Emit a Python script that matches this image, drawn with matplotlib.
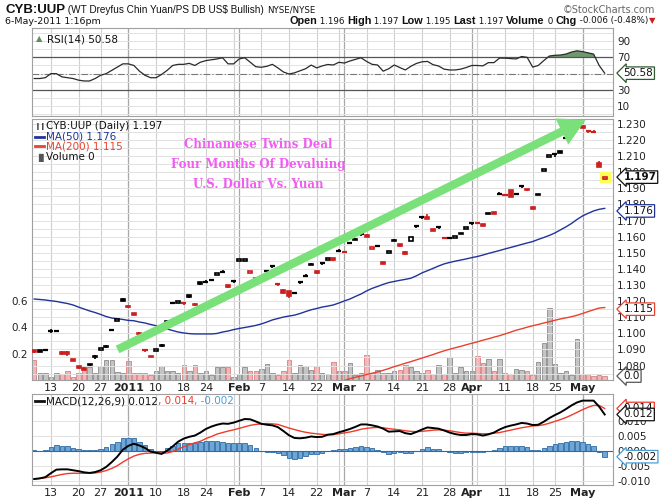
import numpy as np
import pandas as pd
import matplotlib
matplotlib.use('Agg')
import matplotlib.pyplot as plt
import matplotlib.transforms as mtransforms
from matplotlib.patches import Rectangle

# ---- trading days shown on the chart ----
days = pd.bdate_range('2010-12-08', '2011-05-06')
holidays = pd.to_datetime(['2010-12-24', '2011-01-17', '2011-02-21', '2011-04-22'])
days = days[~days.isin(holidays)]

# ---- daily OHLC ----
close_before = 1.0905
opens = [1.0895, 1.0896, 1.0897, 1.1016, 1.1017, 1.0879, 1.0876, 1.0835, 1.0790, 1.0782,
         1.0810, 1.0860, 1.0898, 1.0912, 1.1023, 1.1082, 1.1212, 1.1172, 1.1121, 1.1004,
         1.0898, 1.0858, 1.0897, 1.0920, 1.1068, 1.1188, 1.1192, 1.1190, 1.1235, 1.1176,
         1.1315, 1.1321, 1.1333, 1.1367, 1.1383, 1.1300, 1.1323, 1.1450, 1.1452, 1.1380,
         1.1340, 1.1352, 1.1387, 1.1416, 1.1306, 1.1272, 1.1260, 1.1251, 1.1317, 1.1358,
         1.1425, 1.1386, 1.1435, 1.1461, 1.1466, 1.1513, 1.1507, 1.1559, 1.1580, 1.1617,
         1.1612, 1.1528, 1.1544, 1.1436, 1.1500, 1.1574, 1.1553, 1.1502, 1.1575, 1.1665,
         1.1721, 1.1718, 1.1646, 1.1659, 1.1592, 1.1595, 1.1595, 1.1617, 1.1652, 1.1685,
         1.1682, 1.1674, 1.1740, 1.1746, 1.1867, 1.1857, 1.1888, 1.1865, 1.1913, 1.1895,
         1.1785, 1.1858, 1.2008, 1.2098, 1.2111, 1.2130, 1.2213, 1.2245, 1.2288, 1.2283,
         1.2255, 1.2252, 1.2060, 1.1960]
highs = [1.0897, 1.0898, 1.0898, 1.1028, 1.1018, 1.0892, 1.0890, 1.0836, 1.0800, 1.0790,
         1.0812, 1.0866, 1.0910, 1.0926, 1.1024, 1.1084, 1.1218, 1.1175, 1.1128, 1.1006,
         1.0899, 1.0860, 1.0899, 1.0935, 1.1075, 1.1190, 1.1194, 1.1191, 1.1240, 1.1186,
         1.1318, 1.1330, 1.1334, 1.1369, 1.1393, 1.1302, 1.1330, 1.1462, 1.1462, 1.1390,
         1.1345, 1.1360, 1.1395, 1.1417, 1.1307, 1.1275, 1.1262, 1.1253, 1.1326, 1.1367,
         1.1435, 1.1388, 1.1444, 1.1463, 1.1468, 1.1522, 1.1514, 1.1561, 1.1590, 1.1618,
         1.1614, 1.1538, 1.1546, 1.1438, 1.1510, 1.1583, 1.1555, 1.1512, 1.1600, 1.1675,
         1.1730, 1.1740, 1.1648, 1.1668, 1.1600, 1.1596, 1.1603, 1.1626, 1.1662, 1.1686,
         1.1684, 1.1676, 1.1750, 1.1748, 1.1877, 1.1859, 1.1890, 1.1867, 1.1914, 1.1897,
         1.1787, 1.1868, 1.2020, 1.2110, 1.2112, 1.2132, 1.2222, 1.2255, 1.2298, 1.2288,
         1.2256, 1.2260, 1.2068, 1.1970]
lows = [1.0880, 1.0884, 1.0888, 1.1004, 1.1008, 1.0866, 1.0862, 1.0833, 1.0778, 1.0770,
        1.0796, 1.0840, 1.0896, 1.0910, 1.1012, 1.1081, 1.1198, 1.1155, 1.1112, 1.0990,
        1.0886, 1.0850, 1.0896, 1.0918, 1.1065, 1.1186, 1.1190, 1.1175, 1.1222, 1.1170,
        1.1300, 1.1312, 1.1322, 1.1366, 1.1373, 1.1280, 1.1315, 1.1448, 1.1450, 1.1375,
        1.1330, 1.1344, 1.1380, 1.1405, 1.1295, 1.1245, 1.1222, 1.1250, 1.1308, 1.1349,
        1.1423, 1.1368, 1.1426, 1.1460, 1.1452, 1.1504, 1.1498, 1.1558, 1.1578, 1.1606,
        1.1596, 1.1525, 1.1543, 1.1428, 1.1498, 1.1572, 1.1538, 1.1488, 1.1573, 1.1655,
        1.1712, 1.1708, 1.1635, 1.1650, 1.1585, 1.1585, 1.1593, 1.1615, 1.1650, 1.1675,
        1.1681, 1.1664, 1.1738, 1.1740, 1.1858, 1.1856, 1.1845, 1.1864, 1.1902, 1.1885,
        1.1770, 1.1856, 1.2006, 1.2096, 1.2098, 1.2124, 1.2204, 1.2240, 1.2285, 1.2272,
        1.2245, 1.2245, 1.2030, 1.1950]
closes = [1.0882, 1.0886, 1.0897, 1.1016, 1.1017, 1.0878, 1.0875, 1.0834, 1.0789, 1.0779,
          1.0803, 1.0851, 1.0907, 1.0923, 1.1023, 1.1083, 1.1203, 1.1162, 1.1120, 1.0994,
          1.0898, 1.0855, 1.0898, 1.0928, 1.1070, 1.1188, 1.1193, 1.1190, 1.1228, 1.1182,
          1.1306, 1.1321, 1.1333, 1.1368, 1.1383, 1.1288, 1.1323, 1.1457, 1.1460, 1.1385,
          1.1337, 1.1352, 1.1387, 1.1416, 1.1306, 1.1250, 1.1230, 1.1251, 1.1317, 1.1358,
          1.1431, 1.1373, 1.1435, 1.1462, 1.1455, 1.1513, 1.1507, 1.1559, 1.1586, 1.1617,
          1.1600, 1.1534, 1.1544, 1.1435, 1.1507, 1.1580, 1.1542, 1.1493, 1.1596, 1.1665,
          1.1721, 1.1715, 1.1642, 1.1659, 1.1592, 1.1595, 1.1600, 1.1623, 1.1659, 1.1685,
          1.1682, 1.1671, 1.1747, 1.1744, 1.1867, 1.1857, 1.1847, 1.1865, 1.1913, 1.1892,
          1.1774, 1.1865, 1.2016, 1.2106, 1.2111, 1.2126, 1.2213, 1.2250, 1.2294, 1.2280,
          1.2255, 1.2252, 1.2035, 1.1970]

volume = [0.150, 0.050, 0.050, 0.025, 0.050, 0.045, 0.065, 0.025, 0.050, 0.075,
          0.095, 0.055, 0.105, 0.150, 0.150, 0.060, 0.055, 0.145, 0.055, 0.055,
          0.055, 0.040, 0.070, 0.105, 0.065, 0.070, 0.055, 0.115, 0.065, 0.115,
          0.055, 0.065, 0.040, 0.100, 0.100, 0.095, 0.025, 0.045, 0.095, 0.070,
          0.070, 0.080, 0.120, 0.055, 0.040, 0.065, 0.155, 0.055, 0.115, 0.105,
          0.075, 0.105, 0.055, 0.045, 0.140, 0.070, 0.070, 0.130, 0.040, 0.050,
          0.190, 0.050, 0.075, 0.055, 0.050, 0.070, 0.075, 0.115, 0.095, 0.065,
          0.050, 0.075, 0.045, 0.115, 0.045, 0.175, 0.055, 0.100, 0.065, 0.070,
          0.185, 0.130, 0.160, 0.065, 0.160, 0.050, 0.045, 0.080, 0.075, 0.070,
          0.040, 0.140, 0.280, 0.550, 0.120, 0.050, 0.070, 0.040, 0.310, 0.045,
          0.045, 0.030, 0.040, 0.030]

ma50 = [1.1213, 1.1210, 1.1207, 1.1202, 1.1198, 1.1191, 1.1185, 1.1176, 1.1163, 1.1151,
        1.1139, 1.1129, 1.1117, 1.1104, 1.1095, 1.1091, 1.1086, 1.1080, 1.1078, 1.1070,
        1.1064, 1.1055, 1.1047, 1.1036, 1.1027, 1.1017, 1.1008, 1.1002, 1.0998, 1.0996,
        1.0996, 1.0996, 1.0996, 1.0999, 1.1008, 1.1014, 1.1023, 1.1030, 1.1036, 1.1042,
        1.1049, 1.1058, 1.1070, 1.1083, 1.1092, 1.1101, 1.1107, 1.1113, 1.1123, 1.1135,
        1.1146, 1.1154, 1.1163, 1.1169, 1.1176, 1.1188, 1.1201, 1.1213, 1.1229, 1.1244,
        1.1263, 1.1279, 1.1291, 1.1304, 1.1315, 1.1322, 1.1329, 1.1335, 1.1342, 1.1357,
        1.1375, 1.1389, 1.1403, 1.1418, 1.1431, 1.1440, 1.1448, 1.1455, 1.1462, 1.1470,
        1.1477, 1.1486, 1.1496, 1.1505, 1.1514, 1.1524, 1.1533, 1.1542, 1.1552, 1.1561,
        1.1570, 1.1583, 1.1595, 1.1608, 1.1623, 1.1642, 1.1661, 1.1682, 1.1707, 1.1729,
        1.1745, 1.1760, 1.1770, 1.1776]

ma200_start = 56
ma200 = [1.0707, 1.0718, 1.0727, 1.0735, 1.0744, 1.0752, 1.0760, 1.0770, 1.0781, 1.0793,
         1.0803, 1.0814, 1.0824, 1.0835, 1.0846, 1.0857, 1.0868, 1.0880, 1.0891, 1.0901,
         1.0910, 1.0919, 1.0929, 1.0938, 1.0947, 1.0957, 1.0966, 1.0976, 1.0985, 1.0996,
         1.1007, 1.1019, 1.1028, 1.1038, 1.1047, 1.1055, 1.1064, 1.1072, 1.1081, 1.1089,
         1.1096, 1.1103, 1.1112, 1.1123, 1.1135, 1.1146, 1.1157, 1.1160]

rsi = [44, 44, 45, 50, 50, 46, 45, 44, 42, 41,
       41, 44, 48, 50, 54, 58, 62, 62, 60, 53,
       48, 45, 45, 49, 54, 60, 61.4, 61.4, 62.6, 60,
       64, 66, 67, 68, 69.5, 62, 62, 68, 69.5, 64,
       58.5, 57.8, 59, 61.4, 57, 52, 49.5, 51, 53.5, 56,
       60.5, 57, 59.5, 61.2, 60.6, 63.9, 63, 65.5, 67.5, 69.5,
       65, 61.4, 60.6, 53, 56, 60.6, 57.5, 54.5, 59, 62.5,
       64.5, 65, 61, 59.4, 55.5, 54.5, 54.5, 55.5, 57.5, 60,
       60, 59.5, 63.5, 63.5, 69, 69, 68.5, 68, 71, 70,
       58, 60, 66, 71.6, 72.5, 72.8, 74, 76.5, 78, 77,
       75.5, 74, 60, 50.58]

macd = [-0.0094, -0.0092, -0.0088, -0.0075, -0.0063, -0.0062, -0.0062, -0.0065, -0.0068, -0.0072,
        -0.0074, -0.0071, -0.0065, -0.0054, -0.0038, -0.0020, 0.0003, 0.0016, 0.0023, 0.0017,
        0.0009, -0.0003, -0.0007, -0.0011, 0.0000, 0.0014, 0.0030, 0.0040, 0.0046, 0.0050,
        0.0060, 0.0072, 0.0080, 0.0086, 0.0090, 0.0089, 0.0093, 0.0099, 0.0105, 0.0104,
        0.0097, 0.0089, 0.0086, 0.0084, 0.0078, 0.0065, 0.0051, 0.0042, 0.0041, 0.0043,
        0.0047, 0.0045, 0.0046, 0.0053, 0.0055, 0.0061, 0.0066, 0.0072, 0.0079, 0.0087,
        0.0087, 0.0084, 0.0080, 0.0073, 0.0063, 0.0064, 0.0065, 0.0058, 0.0055, 0.0062,
        0.0070, 0.0077, 0.0075, 0.0073, 0.0067, 0.0060, 0.0055, 0.0052, 0.0052, 0.0055,
        0.0054, 0.0050, 0.0054, 0.0060, 0.0070, 0.0078, 0.0083, 0.0087, 0.0092, 0.0090,
        0.0085, 0.0086, 0.0096, 0.0108, 0.0118, 0.0127, 0.0138, 0.0150, 0.0160, 0.0166,
        0.0166, 0.0166, 0.0146, 0.0120]
signal = [-0.0095, -0.0092, -0.0090, -0.0087, -0.0083, -0.0079, -0.0076, -0.0075, -0.0075, -0.0075,
          -0.0075, -0.0074, -0.0071, -0.0066, -0.0059, -0.0050, -0.0038, -0.0027, -0.0018, -0.0012,
          -0.0009, -0.0008, -0.0007, -0.0008, -0.0008, -0.0003, 0.0005, 0.0013, 0.0020, 0.0026,
          0.0031, 0.0040, 0.0047, 0.0055, 0.0060, 0.0065, 0.0069, 0.0074, 0.0079, 0.0084,
          0.0087, 0.0089, 0.0090, 0.0089, 0.0087, 0.0081, 0.0075, 0.0070, 0.0065, 0.0061,
          0.0058, 0.0056, 0.0054, 0.0053, 0.0053, 0.0056, 0.0059, 0.0062, 0.0066, 0.0071,
          0.0074, 0.0076, 0.0077, 0.0076, 0.0073, 0.0071, 0.0069, 0.0066, 0.0064, 0.0063,
          0.0064, 0.0066, 0.0068, 0.0069, 0.0068, 0.0066, 0.0063, 0.0060, 0.0058, 0.0058,
          0.0057, 0.0056, 0.0056, 0.0058, 0.0060, 0.0064, 0.0068, 0.0072, 0.0076, 0.0079,
          0.0082, 0.0083, 0.0086, 0.0091, 0.0097, 0.0103, 0.0110, 0.0118, 0.0127, 0.0136,
          0.0144, 0.0150, 0.0150, 0.0140]

# annotation arrow (day index, price)
arrow_start = (14.6, 1.0892)
arrow_tip = (100.0, 1.2333)
note_lines = ['Chinamese Twins Deal', 'Four Months Of Devaluing', 'U.S. Dollar Vs. Yuan']

RED = '#cc1f1f'
BLACK = '#000000'
GRID = '#e2e2e2'
WEEK = '#cfcfcf'
MONTH = '#a8a8a8'
SPINE = '#a0a0a0'

W, H = 660, 500
fig = plt.figure(figsize=(6.6, 5.0), dpi=100)
plt.rcParams['font.family'] = ['DejaVu Sans']


def rect_px(left, top, right, bottom):
    return [left / W, 1 - bottom / H, (right - left) / W, (bottom - top) / H]


ax_rsi = fig.add_axes(rect_px(32, 28, 613, 116))
ax = fig.add_axes(rect_px(32, 119, 613, 380))
ax_macd = fig.add_axes(rect_px(32, 394, 613, 485))

n = len(days)
x = np.arange(n)
xlim = (-0.4, 104.5)

# week / month starts for grid and labels
wk = days.to_series().dt.isocalendar().week.values
week_starts = [0] + [i for i in range(1, n) if wk[i] != wk[i - 1]]
month_starts = [i for i in range(1, n) if days[i].month != days[i - 1].month]
label_pos, label_txt, label_bold = [], [], []
for i in sorted(set(week_starts[1:]) | set(month_starts)):
    if i in month_starts:
        label_pos.append(i)
        label_txt.append(str(days[i].year) if days[i].month == 1 else days[i].strftime('%b'))
        label_bold.append(True)
    elif min(abs(i - m) for m in month_starts) > 2:
        label_pos.append(i)
        label_txt.append(str(days[i].day))
        label_bold.append(False)


def style_panel(a):
    a.set_xlim(*xlim)
    for sp in a.spines.values():
        sp.set_color(SPINE)
        sp.set_linewidth(0.8)
    for i in week_starts[1:]:
        a.axvline(i, color=WEEK, lw=0.8, zorder=0)
    for i in month_starts:
        a.axvline(i, color=MONTH, lw=0.9, zorder=0)
    a.yaxis.tick_right()
    a.tick_params(axis='y', length=0, labelsize=7.5, pad=3, colors='#222222')
    a.tick_params(axis='x', length=0, pad=2.5)


def set_date_labels(a, show):
    a.set_xticks(label_pos)
    if show:
        a.set_xticklabels(label_txt, fontsize=8, color='#222222')
        for t, b in zip(a.get_xticklabels(), label_bold):
            if b:
                t.set_fontweight('bold')
    else:
        a.set_xticklabels([])


def value_box(a, val, txt, ec, bold=False, fc='white'):
    tr = mtransforms.blended_transform_factory(a.transAxes, a.transData)
    a.text(1.018, val, txt, transform=tr, ha='left', va='center', fontsize=7.5,
           fontweight='bold' if bold else 'normal', color='#111111', clip_on=False,
           bbox=dict(boxstyle='larrow,pad=0.12', fc=fc, ec=ec, lw=0.9), zorder=10)


# ---------------- RSI ----------------
style_panel(ax_rsi)
ax_rsi.set_ylim(-2, 106)
for v in range(0, 101, 10):
    ax_rsi.axhline(v, color=GRID, lw=0.7, zorder=0)
ax_rsi.axhline(70, color='#555555', lw=0.9)
ax_rsi.axhline(30, color='#555555', lw=0.9)
ax_rsi.axhline(50, color='#777777', lw=0.8, ls=(0, (6, 2, 1, 2)))
rsi_arr = np.array(rsi)
ax_rsi.fill_between(x, 70, rsi_arr, where=rsi_arr > 70, interpolate=True,
                    color='#6f986f', lw=0)
ax_rsi.plot(x, rsi_arr, color='#2a2a2a', lw=0.9)
ax_rsi.set_yticks([10, 30, 70, 90])
set_date_labels(ax_rsi, False)
value_box(ax_rsi, rsi[-1], '50.58', '#2f5a2f')
ax_rsi.text(0.025, 0.93, 'RSI(14) 50.58', transform=ax_rsi.transAxes, fontsize=7.5,
            va='top', color='#111111')
ax_rsi.text(0.006, 0.93, '\u25b2', transform=ax_rsi.transAxes, fontsize=6,
            va='top', color='#5f8f5f')

# ---------------- Price ----------------
style_panel(ax)
vax = ax.twinx()
ax.yaxis.tick_right()
vax.yaxis.tick_left()
vax.set_xlim(*xlim)
vax.set_ylim(0, 1.98)
ax.set_zorder(vax.get_zorder() + 1)
ax.patch.set_visible(False)
ax.set_ylim(1.0710, 1.2331)
for v in np.arange(1.075, 1.2331, 0.005):
    ax.axhline(v, color=GRID, lw=0.7, zorder=0)

prev = np.concatenate([[close_before], closes[:-1]])
up = np.array(closes) >= prev
vcol = np.where(up, '#c4c4c4', '#f3b6b6')
vedge = np.where(up, '#8a8a8a', '#d98080')
vax.bar(x, volume, width=0.8, color=vcol, edgecolor=vedge, lw=0.6)
vax.set_yticks([0.2, 0.4, 0.6])
vax.set_yticklabels(['0.2', '0.4', '0.6'])
vax.tick_params(axis='y', length=0, labelsize=7.5, pad=3, colors='#222222')
for sp in vax.spines.values():
    sp.set_visible(False)

# highlight of last bar
ax.plot(n - 1, closes[-1], marker='s', ms=6.5, color='#ffff55', mec='#ffff55', zorder=2)

bw = 0.72
min_body = 0.0011
for i in range(n):
    col = BLACK if up[i] else RED
    o, c, h, l = opens[i], closes[i], highs[i], lows[i]
    ax.vlines(i, l, h, color=col, lw=1.2, zorder=3)
    if c != o:
        lo, hi = min(o, c), max(o, c)
        if hi - lo < min_body:
            mid = (hi + lo) / 2
            lo, hi = mid - min_body / 2, mid + min_body / 2
        face = 'white' if c > o else col
        ax.add_patch(Rectangle((i - bw / 2, lo), bw, hi - lo, fc=face, ec=col, lw=1.2,
                               zorder=4))
    else:
        ax.hlines(c, i - bw / 2 - 0.1, i + bw / 2 + 0.1, color=col, lw=1.6, zorder=4)

ax.plot(x, ma50, color='#1f3399', lw=1.0, zorder=3)
ax.plot(np.arange(ma200_start, ma200_start + len(ma200)), ma200, color='#e8412e', lw=1.0,
        zorder=3)

ax.annotate('', xy=arrow_tip, xytext=arrow_start, annotation_clip=False,
            arrowprops=dict(arrowstyle='simple,head_length=1.9,head_width=2.1,tail_width=0.6',
                            mutation_scale=10, fc='#7ae07a', ec='none', clip_on=False),
            zorder=6)

ax.set_yticks(np.round(np.arange(1.08, 1.2301, 0.01), 3))
ax.yaxis.set_major_formatter(matplotlib.ticker.FormatStrFormatter('%.3f'))
set_date_labels(ax, True)

value_box(ax, 1.197, '1.197', '#111111', bold=True)
value_box(ax, 1.176, '1.176', '#1f3399')
value_box(ax, 1.115, '1.115', '#e8412e')
trv = mtransforms.blended_transform_factory(vax.transAxes, vax.transData)
vax.text(1.018, 0.03, '0.0', transform=trv, ha='left', va='center', fontsize=7.5,
         color='#111111', clip_on=False,
         bbox=dict(boxstyle='larrow,pad=0.12', fc='white', ec='#555555', lw=0.9))

# legend
leg_y = [126, 136.5, 146.5, 157]
fig.text(46 / W, 1 - leg_y[0] / H, 'CYB:UUP (Daily) 1.197', fontsize=7.5, va='center',
         color='#111111')
fig.text(35 / W, 1 - leg_y[0] / H, '\u2759\u2759', fontsize=5, va='center', color='#111111')
fig.text(46 / W, 1 - leg_y[1] / H, 'MA(50) 1.176', fontsize=7.5, va='center', color='#1f3399')
fig.text(46 / W, 1 - leg_y[2] / H, 'MA(200) 1.115', fontsize=7.5, va='center', color='#e8412e')
fig.text(46 / W, 1 - leg_y[3] / H, 'Volume 0', fontsize=7.5, va='center', color='#111111')
fig.text(35 / W, 1 - leg_y[3] / H, '\u2590\u258c', fontsize=5.5, va='center', color='#555555')
for yy, cc in [(leg_y[1], '#1f3399'), (leg_y[2], '#e8412e'), (401, '#111111')]:
    fig.add_artist(plt.Line2D([35 / W, 44 / W], [1 - yy / H, 1 - yy / H], color=cc, lw=2))

for k, line in enumerate(note_lines):
    fig.text(258 / W, 1 - (144 + 20 * k) / H, line, ha='center', va='center',
             fontsize=8.5, fontweight='bold', family='DejaVu Serif', color='#f25cf2')

# ---------------- MACD ----------------
style_panel(ax_macd)
ax_macd.set_ylim(-0.0114, 0.0188)
for v in np.arange(-0.010, 0.0151, 0.005):
    ax_macd.axhline(v, color=GRID, lw=0.7, zorder=0)
hist = np.array(macd) - np.array(signal)
ax_macd.bar(x, hist, width=0.8, color='#6ea6d6', edgecolor='#2d6aa6', lw=0.6, zorder=2)
ax_macd.axhline(0, color='#2d6aa6', lw=0.8, zorder=2)
ax_macd.plot(x, signal, color='#f03a2a', lw=1.0, zorder=3)
ax_macd.plot(x, macd, color='#000000', lw=1.4, zorder=4)
ax_macd.set_yticks([-0.010, -0.005, 0.0, 0.005, 0.010])
ax_macd.yaxis.set_major_formatter(matplotlib.ticker.FormatStrFormatter('%.3f'))
set_date_labels(ax_macd, True)
value_box(ax_macd, signal[-1], '0.014', '#f03a2a')
value_box(ax_macd, macd[-1], '0.012', '#111111')
value_box(ax_macd, hist[-1], '-0.002', '#4a9fd8')

fig.canvas.draw()
renderer = fig.canvas.get_renderer()


def text_run(x0, y0, pieces, align='left'):
    arts = []
    for s, kw in pieces:
        arts.append(fig.text(0, 1 - y0 / H, s, va='center', **kw))
    widths = [a.get_window_extent(renderer).width for a in arts]
    xs = x0 if align == 'left' else x0 - sum(widths)
    for a, w in zip(arts, widths):
        a.set_x(xs / W)
        xs += w


bold = dict(fontsize=7.8, fontweight='bold', family='Liberation Sans', color='#111111')
norm = dict(fontsize=6.3, color='#111111')
text_run(46, 401, [('MACD(12,26,9) 0.012', dict(fontsize=7.5, color='#111111')),
                   (', 0.014', dict(fontsize=7.5, color='#f03a2a')),
                   (', -0.002', dict(fontsize=7.5, color='#4a9fd8'))])
text_run(5, 10, [('CYB:UUP', dict(fontsize=9.5, fontweight='bold', family='Liberation Sans',
                                   color='#111111')),
                 (' (WT Dreyfus Chin Yuan/PS DB US$ Bullish) ',
                  dict(fontsize=7.2, family='Liberation Sans', color='#111111')),
                 ('NYSE/NYSE', dict(fontsize=6.2, color='#111111'))])
text_run(5, 21, [('6-May-2011 1:16pm', dict(fontsize=6.8, color='#111111'))])
text_run(655, 10, [('\u00a9StockCharts.com', dict(fontsize=7, color='#666666'))], align='right')
text_run(655, 21, [('Open', bold), (' 1.196 ', norm), ('High', bold), (' 1.197 ', norm),
                   ('Low', bold), (' 1.195 ', norm), ('Last', bold), (' 1.197 ', norm),
                   ('Volume', bold), (' 0 ', norm), ('Chg', bold),
                   (' -0.006 (-0.48%)', norm), ('\u25bc', dict(fontsize=6, color=RED))],
         align='right')

fig.savefig('out.png', dpi=100)
